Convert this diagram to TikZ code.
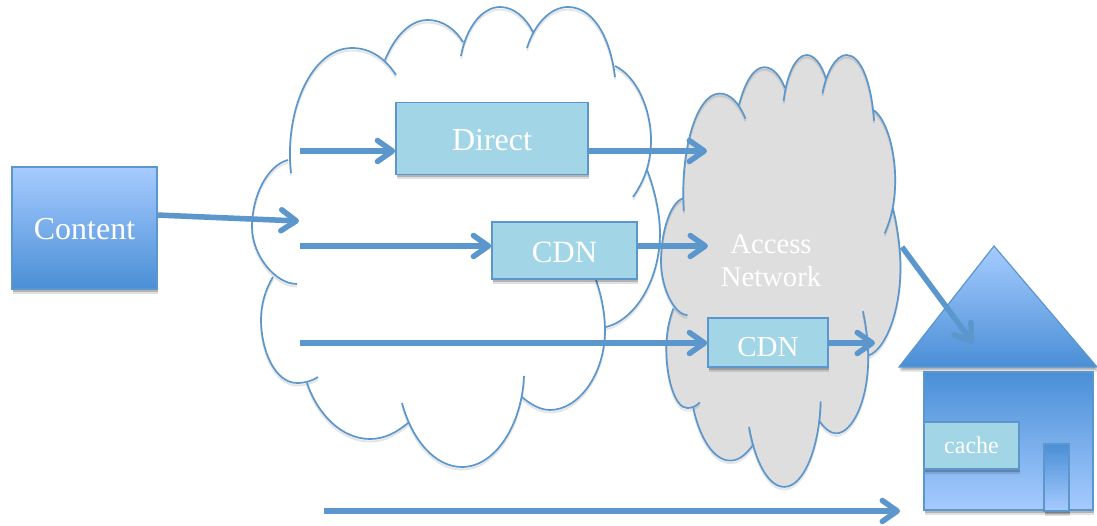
\documentclass[tikz,border=0pt]{standalone}
\usepackage{fontspec}
\setmainfont{Liberation Serif}
\usetikzlibrary{arrows.meta, shadows}

\definecolor{lineblue}{HTML}{5B96CC}
\definecolor{lightblue}{HTML}{A6CBFF}
\definecolor{deepblue}{HTML}{4A8FD6}
\definecolor{boxblue}{HTML}{A2D5E5}
\definecolor{cloudgray}{HTML}{DEDEDE}

\tikzset{
  flow/.style={draw=lineblue, line width=5.5pt,
    -{Straight Barb[round,length=15pt,width=21pt,line width=5.5pt]},
    preaction={draw=black, opacity=.15, transform canvas={yshift=-2.5pt}}},
  cloudline/.style={draw=lineblue, line width=1.7pt,
    preaction={draw=black, opacity=.1, line width=2pt, transform canvas={yshift=-2.5pt}}},
  boxshadow/.style={drop shadow={shadow xshift=1pt, shadow yshift=-4.5pt, opacity=.12, fill=black},
    drop shadow={shadow xshift=.5pt, shadow yshift=-2.5pt, opacity=.2, fill=black}},
  svcbox/.style={rectangle, draw=lineblue, line width=1.6pt, fill=boxblue, text=white,
    inner sep=0pt, text depth=0pt, boxshadow},
  fadedown/.style={rectangle, draw=lineblue, line width=1.2pt, top color=lightblue, bottom color=deepblue,
    inner sep=0pt, text depth=0pt, boxshadow},
  fadeup/.style={rectangle, draw=lineblue, line width=1.2pt, top color=deepblue, bottom color=lightblue,
    inner sep=0pt, boxshadow},
}

% the arcs of the cloud, with their short ends inside
\newcommand{\cloudarcs}{
  (291,173) .. controls (284,110) and (312,48) .. (352,48) .. controls (370,48) and (385,58) .. (396,75)
  (385,60) .. controls (395,36) and (410,20) .. (428,20) .. controls (443,20) and (456,30) .. (463,42)
  (461,56) .. controls (466,28) and (482,7) .. (500,7) .. controls (514,7) and (526,18) .. (533,32)
  (527,48) .. controls (534,25) and (550,7) .. (568,7) .. controls (592,7) and (610,35) .. (615,77)
  (615,66) .. controls (636,76) and (651,108) .. (651,140) .. controls (651,162) and (645,180) .. (633,197)
  (647,170) .. controls (655,190) and (660,215) .. (660,233) .. controls (660,280) and (635,320) .. (606,327)
  (596,280) .. controls (602,297) and (605,315) .. (605,330) .. controls (605,375) and (578,410) .. (550,410) .. controls (540,410) and (530,404) .. (522,397)
  (524,376) .. controls (522,425) and (495,467) .. (462,467) .. controls (435,467) and (412,440) .. (402,403)
  (408,423) .. controls (396,433) and (384,439) .. (370,439) .. controls (342,439) and (318,415) .. (307,383)
  (318,377) .. controls (312,381) and (305,383) .. (297,383) .. controls (275,383) and (261,350) .. (261,320) .. controls (261,305) and (265,290) .. (273,277)
  (297,284) .. controls (275,284) and (252,255) .. (252,227) .. controls (252,195) and (268,165) .. (288,160)
}
% the part inside the arcs, cusp to cusp
\newcommand{\cloudcore}{
  (288,160) -- (385,60) -- (463,42) -- (533,32) -- (615,66) -- (647,170) -- (606,327) -- (522,397) -- (408,423) -- (307,383) -- (273,277) -- cycle
}

\begin{document}
\begin{tikzpicture}[x=1pt, y=-1pt]
\useasboundingbox (0,0) rectangle (1097,525);

% Clouds
\draw[cloudline] \cloudarcs;
\begin{scope}[shift={(661,55)}, xscale=.587, yscale=.939, shift={(-252,-7)}]
\filldraw[cloudgray, line width=1pt] \cloudcore;
\fill[cloudgray] \cloudarcs;
\draw[cloudline] \cloudarcs;
\end{scope}

% Boxes
\node[fadedown, minimum width=145pt, minimum height=122pt, text height=22pt, font=\fontsize{32}{32}\selectfont, text=white] (content) at (84.5,228) {Content};
\node[svcbox, minimum width=192pt, minimum height=72pt, text height=23pt, font=\fontsize{32}{32}\selectfont] (direct) at (492,138.5) {Direct};
\node[svcbox, minimum width=145pt, minimum height=57pt, text height=23pt, font=\fontsize{31}{31}\selectfont] (cdnone) at (564.5,250.5) {CDN};
\node[svcbox, minimum width=120pt, minimum height=49pt, text height=27pt, font=\fontsize{29}{29}\selectfont] (cdntwo) at (768,342.5) {CDN};
\node[align=center, text=white, font=\fontsize{28.7}{33}\selectfont] (access) at (771,261) {Access\\Network};

% House
\draw[lineblue, line width=1.2pt, top color=lightblue, bottom color=deepblue, boxshadow] (899,367) -- (994,246) -- (1097,367) -- cycle;
\node[fadeup, minimum width=169pt, minimum height=138pt] (house) at (1008.5,441) {};
\node[svcbox, minimum width=95pt, minimum height=47pt, text height=15pt, font=\fontsize{24}{24}\selectfont] (cache) at (971.5,445.5) {cache};
\node[fadeup, minimum width=25pt, minimum height=67pt] (door) at (1056.5,477.5) {};

% Arrows
\coordinate (rowone) at (300,151);
\coordinate (rowtwo) at (300,246);
\coordinate (rowthree) at (300,343);
\coordinate (contentout) at (157,215);
\coordinate (contentin) at (299,221);
\coordinate (directin) at (707,151);
\coordinate (cdnonein) at (708,246);
\coordinate (cdntwoin) at (875,343);
\coordinate (accessout) at (902,247);
\coordinate (roofin) at (973,343);
\coordinate (bottomout) at (324,511);
\coordinate (bottomin) at (900,511);

\draw[flow] (contentout) -- (contentin);
\draw[flow] (rowone) -- (rowone -| direct.west);
\draw[flow] (rowone -| direct.east) -- (directin);
\draw[flow] (rowtwo) -- (rowtwo -| cdnone.west);
\draw[flow] (rowtwo -| cdnone.east) -- (cdnonein);
\draw[flow] (rowthree) -- (rowthree -| cdntwo.west);
\draw[flow] (rowthree -| cdntwo.east) -- (cdntwoin);
\draw[flow] (accessout) -- (roofin);
\draw[flow] (bottomout) -- (bottomin);
\end{tikzpicture}
\end{document}
